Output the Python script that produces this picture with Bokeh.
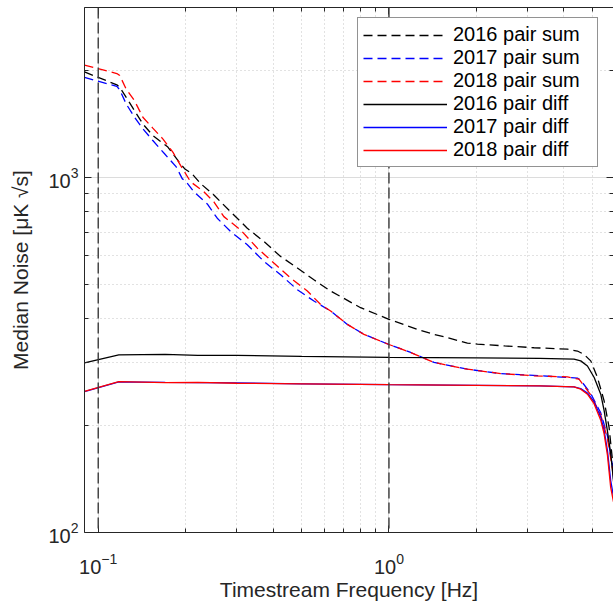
from bokeh.plotting import figure
from bokeh.models import LogAxis, FixedTicker, Span, Legend, LegendItem, Range1d, CustomJSTickFormatter
from bokeh.embed import file_html
from bokeh.resources import INLINE

# ---------------- data ----------------
freq_sum_2016 = [0.0897, 0.1159, 0.1186, 0.1248, 0.1333, 0.1424, 0.1541, 0.1736, 0.1879, 0.1981,
                 0.21, 0.2249, 0.2499, 0.2852, 0.3256, 0.3714, 0.4239, 0.4841, 0.5519, 0.63,
                 0.7991, 1.0, 1.252, 1.429, 1.588, 1.861, 2.015, 2.5, 3.155, 4.111, 4.448,
                 4.688, 4.944, 5.213, 5.493, 5.715, 5.871, 5.92]
sum_2016 = [1976, 1818, 1790, 1676, 1538, 1411, 1309, 1215, 1114, 1056,
            1023, 959, 890, 799, 718, 659, 598, 555, 514, 478,
            429, 398, 373, 361, 353.5, 341, 339, 335, 331, 328, 324,
            317, 304, 273, 235, 198, 160, 150]

freq_sum_2017 = [0.0897, 0.1159, 0.1186, 0.1248, 0.1333, 0.1424, 0.1541, 0.1691, 0.1855, 0.1945,
                 0.2008, 0.2133, 0.2372, 0.2567, 0.2852, 0.3256, 0.3714, 0.4239, 0.4841, 0.5519,
                 0.63, 0.7192, 0.8204, 1.0, 1.188, 1.429, 1.861, 2.424, 3.327, 4.448, 4.567,
                 4.944, 5.351, 5.643, 5.871, 5.92]
sum_2017 = [1907, 1799, 1760, 1606, 1474, 1367, 1267, 1163, 1068, 990,
            970, 909, 840, 766, 703, 645, 579, 531, 482, 448,
            420, 385, 361, 338, 321, 301, 288, 280, 276, 272, 268,
            246, 217, 187, 154, 141]

freq_sum_2018 = [0.0897, 0.1159, 0.1186, 0.1248, 0.1333, 0.1424, 0.1541, 0.1668, 0.1806, 0.1919,
                 0.2078, 0.2309, 0.2499, 0.2705, 0.3088, 0.3525, 0.4019, 0.4588, 0.5239, 0.5821,
                 0.63, 0.7192, 0.8204, 1.0, 1.188, 1.429, 1.861, 2.424, 3.155, 4.111, 4.505,
                 4.944, 5.351, 5.643, 5.871, 5.92]
sum_2018 = [2064, 1956, 1930, 1768, 1640, 1474, 1373, 1281, 1176, 1079,
            970, 909, 852, 774, 710, 631, 573, 520, 478, 438,
            420, 385, 361, 338, 321, 301, 288, 280, 276, 274, 270,
            244, 214, 184, 151, 139]

freq_diff = [0.0897, 0.1177, 0.17, 0.22, 0.3, 0.5, 1.0, 2.0, 3.3, 4.33, 4.567, 4.816,
             5.08, 5.351, 5.493, 5.643, 5.79, 5.92]
diff_2016 = [300, 316, 317, 315, 315, 313, 311, 310, 309, 307.5, 304, 294,
             273, 245, 221, 193, 167, 140]
diff_2017 = [249, 265.5, 264.5, 264, 263.5, 262, 260.5, 259.5, 258.5, 257, 254, 247,
             233, 211, 194, 170, 140, 126]
diff_2018 = [249.5, 265.7, 264, 264.5, 263, 262, 260.5, 259.5, 258.5, 257, 253, 245,
             230, 207, 190, 165, 134, 122]

marker_freqs = [0.1, 1.0]

x_major = [0.1, 1.0]
x_minor = [0.2, 0.3, 0.4, 0.5, 0.6, 0.7, 0.8, 0.9, 2, 3, 4, 5]
y_major = [100, 1000]
y_minor = [200, 300, 400, 500, 600, 700, 800, 900, 2000, 3000]

FONT = "Liberation Sans"
AX = "#262626"

p = figure(width=613, height=603, x_axis_type="log", y_axis_type="log",
           x_range=Range1d(0.0897, 5.92), y_range=Range1d(100, 3000),
           output_backend="svg", toolbar_location=None,
           min_border_left=84, min_border_right=0, min_border_top=7, min_border_bottom=67)
p.outline_line_color = None
p.background_fill_color = "white"

xt = FixedTicker(ticks=x_major, minor_ticks=x_minor)
yt = FixedTicker(ticks=y_major, minor_ticks=y_minor)

blank = CustomJSTickFormatter(code="return ''")
top_axis = LogAxis(formatter=blank)
right_axis = LogAxis(formatter=blank)
p.add_layout(top_axis, "above")
p.add_layout(right_axis, "right")

for ax, t in [(p.below[0], xt), (top_axis, xt), (p.left[0], yt), (right_axis, yt)]:
    ax.ticker = t
    ax.axis_line_color = AX
    ax.axis_line_width = 1
    ax.major_tick_line_color = AX
    ax.minor_tick_line_color = AX
    ax.major_tick_in = 7
    ax.major_tick_out = 0
    ax.minor_tick_in = 4
    ax.minor_tick_out = 0
    ax.major_label_text_font = FONT
    ax.major_label_text_font_size = "20px"
    ax.major_label_text_color = AX
    ax.axis_label_text_font = FONT
    ax.axis_label_text_font_size = "21px"
    ax.axis_label_text_font_style = "normal"
    ax.axis_label_text_color = AX

for ax in (top_axis, right_axis):
    ax.major_label_standoff = 0

p.below[0].axis_label = "Timestream Frequency [Hz]"
p.below[0].major_label_standoff = 20
p.below[0].axis_label_standoff = 1
p.left[0].axis_label = "Median Noise [μK √s]"
p.left[0].major_label_standoff = 6
p.left[0].axis_label_standoff = 13

for g, t in [(p.xgrid[0], xt), (p.ygrid[0], yt)]:
    g.ticker = t
    g.grid_line_color = "#dcdcdc"
    g.grid_line_width = 1
    g.minor_grid_line_color = "#c4c4c4"
    g.minor_grid_line_dash = "1 3"
    g.minor_grid_line_width = 1

for f in marker_freqs:
    p.add_layout(Span(location=f, dimension="height", line_color="#3a3a3a",
                      line_width=1.4, line_dash="11 4"))

series = [
    ("2016 pair sum", freq_sum_2016, sum_2016, "#000000", "9 5"),
    ("2017 pair sum", freq_sum_2017, sum_2017, "#0000ff", "9 5"),
    ("2018 pair sum", freq_sum_2018, sum_2018, "#ff0000", "9 5"),
    ("2016 pair diff", freq_diff, diff_2016, "#000000", "solid"),
    ("2017 pair diff", freq_diff, diff_2017, "#0000ff", "solid"),
    ("2018 pair diff", freq_diff, diff_2018, "#ff0000", "solid"),
]
items = []
for label, xs, ys, col, dash in series:
    r = p.line(xs, ys, line_color=col, line_width=1.3, line_dash=dash)
    items.append(LegendItem(label=label, renderers=[r]))

legend = Legend(items=items, location=(273, 365))
legend.border_line_color = AX
legend.border_line_width = 1
legend.background_fill_color = "white"
legend.background_fill_alpha = 1
legend.label_text_font = FONT
legend.label_text_font_size = "20px"
legend.label_text_color = "#000000"
legend.glyph_width = 84
legend.glyph_height = 20
legend.label_height = 20
legend.label_width = 139
legend.label_standoff = 6
legend.spacing = 0
legend.padding = 5
legend.margin = 0
p.add_layout(legend)

open("out.html", "w").write(file_html(p, INLINE))
